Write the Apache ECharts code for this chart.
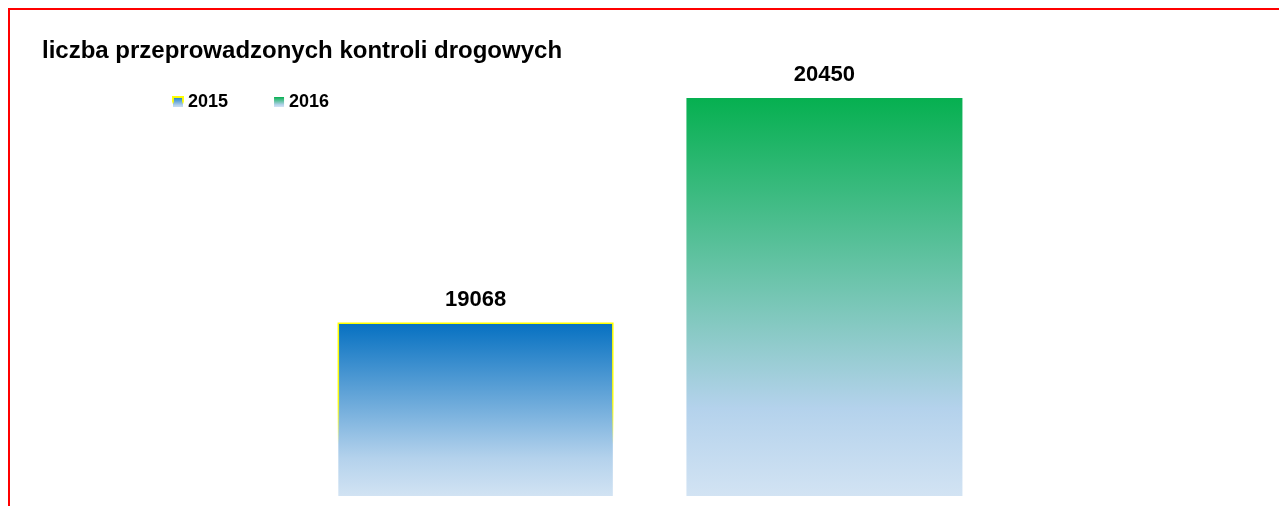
<!DOCTYPE html>
<html>
<head>
<meta charset="utf-8">
<script src="https://cdn.jsdelivr.net/npm/echarts@6/dist/echarts.min.js"></script>
<style>
  html, body { margin: 0; padding: 0; background: #fff; overflow: hidden; }
  .frame {
    position: absolute; left: 8px; top: 8px; width: 1400px; height: 600px;
    border-top: 2px solid #f00; border-left: 2px solid #f00;
  }
  #chart { position: absolute; left: 0; top: 0; width: 1279px; height: 506px; }
</style>
</head>
<body>
<div class="frame"></div>
<div id="chart"></div>
<script>
const categories = [""];
const seriesNames = ["2015", "2016"];
const values2015 = [19068];
const values2016 = [20450];
const yMin = 18000;
const yMax = 20500;

const chart = echarts.init(document.getElementById("chart"));

function grad(top) {
  return new echarts.graphic.LinearGradient(0, 0, 0, 1, [
    { offset: 0, color: top },
    { offset: 0.78, color: "#b4d2ec" },
    { offset: 1, color: "#d2e3f3" },
  ]);
}

const labelStyle = {
  show: true,
  position: "top",
  distance: 12,
  color: "#000",
  fontWeight: "bold",
  fontSize: 22,
  fontFamily: "Liberation Sans",
};

const option = {
  animation: false,
  title: {
    text: "liczba przeprowadzonych kontroli drogowych",
    left: 37,
    top: 34,
    textStyle: {
      fontFamily: "Liberation Sans",
      fontWeight: "bold",
      fontSize: 24,
      color: "#000",
    },
  },
  legend: {
    data: seriesNames,
    left: 167,
    top: 88,
    icon: "rect",
    itemWidth: 10,
    itemHeight: 10,
    itemGap: 46,
    textStyle: {
      fontFamily: "Liberation Sans",
      fontWeight: "bold",
      fontSize: 18,
      color: "#000",
    },
  },
  grid: { left: 100, right: 79, top: 90, bottom: 10 },
  xAxis: {
    type: "category",
    data: categories,
    axisLine: { show: false },
    axisTick: { show: false },
    axisLabel: { show: false },
  },
  yAxis: {
    type: "value",
    min: yMin,
    max: yMax,
    show: false,
    splitLine: { show: false },
  },
  series: [
    {
      name: seriesNames[0],
      type: "bar",
      data: values2015,
      barWidth: 276,
      barGap: "26.4%",
      itemStyle: {
        color: grad("#0570c1"),
        borderWidth: 1.5,
        borderColor: new echarts.graphic.LinearGradient(0, 0, 0, 1, [
          { offset: 0, color: "#ffff00" },
          { offset: 0.45, color: "rgba(255,255,0,0.9)" },
          { offset: 0.7, color: "rgba(255,255,0,0)" },
        ]),
      },
      label: labelStyle,
    },
    {
      name: seriesNames[1],
      type: "bar",
      data: values2016,
      barWidth: 276,
      itemStyle: { color: grad("#06b050") },
      label: labelStyle,
    },
  ],
};

chart.setOption(option);
</script>
</body>
</html>
